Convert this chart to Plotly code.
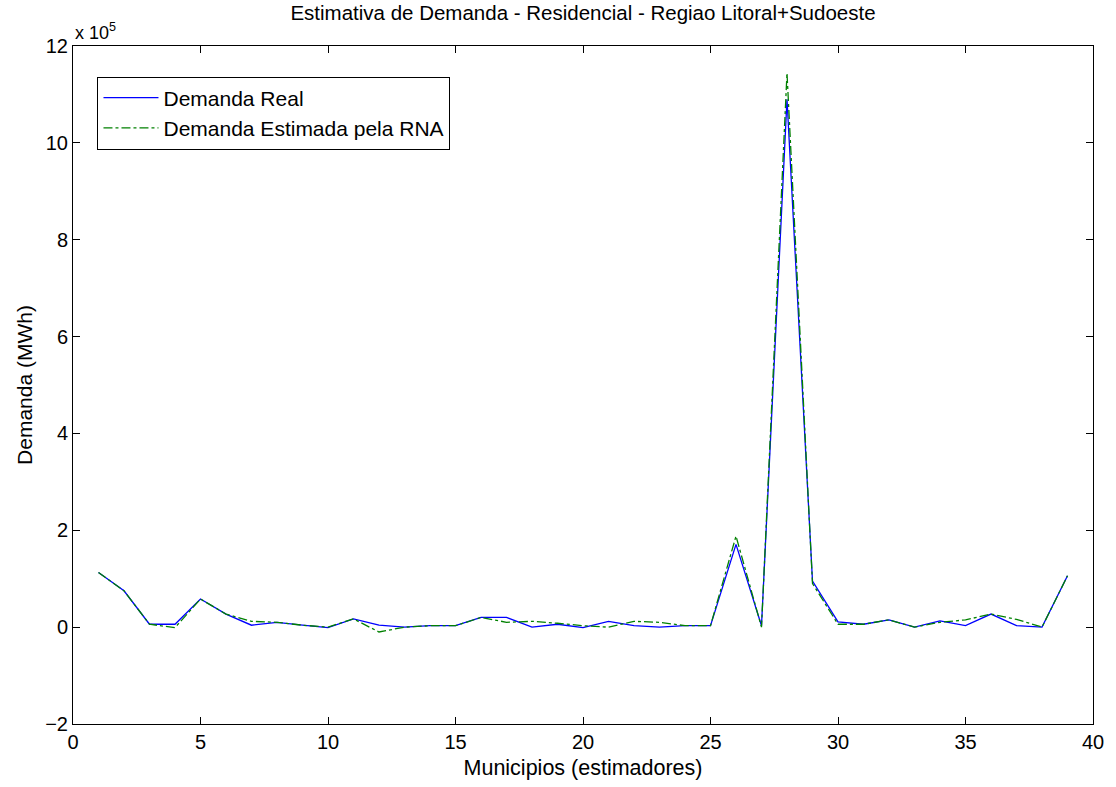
import plotly.graph_objects as go

# Municipios (estimadores) 1..39
municipios = list(range(1, 40))
# Demanda em unidades de 10^5 MWh
demanda_real = [1.13, 0.75, 0.06, 0.06, 0.58, 0.27, 0.04, 0.10, 0.04, -0.01,
                0.17, 0.04, 0.00, 0.03, 0.03, 0.20, 0.20, 0.00, 0.06, -0.01,
                0.12, 0.03, 0.00, 0.03, 0.03, 1.71, 0.03, 10.90, 0.95, 0.11,
                0.06, 0.15, 0.00, 0.13, 0.03, 0.27, 0.03, 0.00, 1.06]
demanda_estimada = [1.13, 0.75, 0.06, -0.01, 0.58, 0.27, 0.12, 0.10, 0.04, 0.00,
                    0.17, -0.10, 0.00, 0.03, 0.03, 0.20, 0.10, 0.12, 0.08, 0.03,
                    0.00, 0.12, 0.10, 0.03, 0.03, 1.88, 0.00, 11.44, 0.90, 0.06,
                    0.06, 0.15, 0.00, 0.10, 0.15, 0.27, 0.16, 0.00, 1.06]

x_ticks = [0, 5, 10, 15, 20, 25, 30, 35, 40]
y_ticks = [-2, 0, 2, 4, 6, 8, 10, 12]

font = "Liberation Sans, Arial, Helvetica, sans-serif"

fig = go.Figure()
fig.add_trace(go.Scatter(x=municipios, y=demanda_real, mode="lines",
                         name="Demanda Real",
                         line=dict(color="#0000ff", width=1.3)))
fig.add_trace(go.Scatter(x=municipios, y=demanda_estimada, mode="lines",
                         name="Demanda Estimada pela RNA",
                         line=dict(color="#008000", width=1.3, dash="dashdot")))

axis_common = dict(showline=True, linecolor="black", linewidth=1, mirror="ticks",
                   ticks="inside", ticklen=7, tickcolor="black", showgrid=False,
                   zeroline=False, tickfont=dict(family=font, size=20, color="black"))

fig.update_layout(
    width=1116, height=787,
    margin=dict(l=73, r=16, t=46, b=62),
    paper_bgcolor="white", plot_bgcolor="white",
    font=dict(family=font, color="black"),
    title=dict(text="Estimativa de Demanda - Residencial - Regiao Litoral+Sudoeste",
               x=0.5, xanchor="center", xref="paper", y=0.984, yanchor="middle",
               font=dict(family=font, size=20.5, color="black")),
    xaxis=dict(range=[0, 40], tickvals=x_ticks,
               title=dict(text="Municipios (estimadores)", standoff=7,
                          font=dict(family=font, size=21.5)),
               **axis_common),
    yaxis=dict(range=[-2, 12], tickvals=y_ticks,
               title=dict(text="Demanda (MWh)", standoff=6,
                          font=dict(family=font, size=21)),
               **axis_common),
    legend=dict(x=0.024, y=0.955, xanchor="left", yanchor="top",
                bordercolor="black", borderwidth=1, bgcolor="white",
                font=dict(family=font, size=21, color="black"),
                tracegroupgap=0, itemwidth=55),
    showlegend=True,
)

fig.add_annotation(text="x 10<sup>5</sup>", xref="paper", yref="paper",
                   x=0.0, y=1.0, xanchor="left", yanchor="bottom", yshift=1,
                   showarrow=False, font=dict(family=font, size=18, color="black"))

fig.write_html("out.html")
